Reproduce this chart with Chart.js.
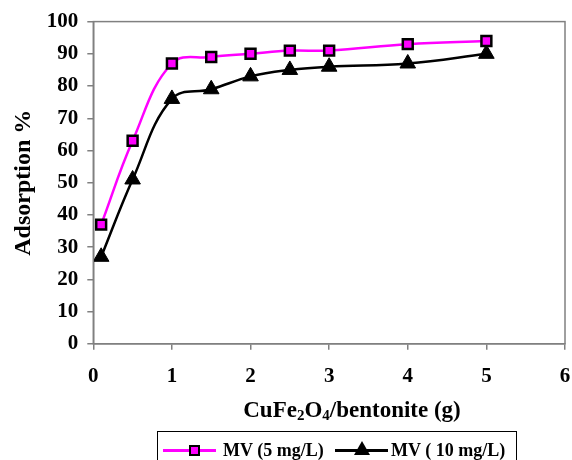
<!DOCTYPE html>
<html>
<head>
<meta charset="utf-8">
<script src="https://cdn.jsdelivr.net/npm/chart.js@4/dist/chart.umd.min.js"></script>
<style>
  html, body { margin: 0; padding: 0; background: #fff; }
  #wrap { position: relative; width: 572px; height: 460px; overflow: hidden; }
  #chart { position: absolute; left: 0; top: 0; }
  .serif { font-family: 'Liberation Serif', 'Times New Roman', serif; font-weight: bold; color: #000; }
  #x-title { position: absolute; left: 0; top: 397px; width: 572px; padding-left: 132px; box-sizing: border-box; text-align: center; font-size: 23px; }
  #x-title sub { font-size: 15px; vertical-align: -3px; }
  #legend { position: absolute; left: 157px; top: 431px; width: 360px; height: 40px; border: 1px solid #000; box-sizing: border-box; }
  .leg-item { position: absolute; top: 7px; height: 22px; font-size: 18px; white-space: nowrap; }
  .leg-line { position: absolute; top: 10px; width: 53px; height: 2.5px; }
  .leg-text { position: absolute; top: 0; line-height: 22px; }
</style>
</head>
<body>
<div id="wrap">
  <canvas id="chart" width="572" height="460"></canvas>
  <div id="x-title" class="serif">CuFe<sub>2</sub>O<sub>4</sub>/bentonite (g)</div>
  <div id="legend" class="serif">
    <div class="leg-item" style="left:5px;">
      <div class="leg-line" style="left:0;background:#FF00FF;"></div>
      <div style="position:absolute;left:26px;top:6px;width:7px;height:7px;background:#FF00FF;border:2.5px solid #000;"></div>
      <div class="leg-text" style="left:60px;">MV (5 mg/L)</div>
    </div>
    <div class="leg-item" style="left:177px;">
      <div class="leg-line" style="left:0;background:#000;"></div>
      <div style="position:absolute;left:19px;top:2px;width:0;height:0;border-left:8px solid transparent;border-right:8px solid transparent;border-bottom:14px solid #000;"></div>
      <div class="leg-text" style="left:56px;">MV ( 10 mg/L)</div>
    </div>
  </div>
</div>

<script>
/* ── Data ───────────────────────────────────────────────── */

const dose    = [0.1, 0.5, 1, 1.5, 2, 2.5, 3, 4, 5];
const mv5     = [37, 63, 87, 89, 90, 91, 91, 93, 94];
const mv10    = [27, 51, 76, 79, 83, 85, 86, 87, 90];
const labels  = ['MV (5 mg/L)', 'MV ( 10 mg/L)'];

const xTicks  = [0, 1, 2, 3, 4, 5, 6];
const yTicks  = [0, 10, 20, 30, 40, 50, 60, 70, 80, 90, 100];

const FONT = "'Liberation Serif', 'Times New Roman', serif";
const AXIS_GREY = '#808080';

function toPoints(ys) {
  return dose.map((x, i) => ({ x, y: ys[i] }));
}

/* ── Frame plugin (top/right border) ───────────────────── */

const frame = {
  id: 'frame',
  afterDraw(chart) {
    const { ctx, chartArea: a } = chart;
    ctx.save();
    ctx.strokeStyle = AXIS_GREY;
    ctx.lineWidth = 1.5;
    ctx.strokeRect(a.left, a.top, a.right - a.left, a.bottom - a.top);
    ctx.restore();
  }
};

/* ── Chart ─────────────────────────────────────────────── */

new Chart(document.getElementById('chart'), {
  type: 'line',
  data: {
    datasets: [
      {
        label: labels[0],
        data: toPoints(mv5),
        borderColor: '#FF00FF',
        borderWidth: 2.5,
        tension: 0.4,
        pointStyle: 'rect',
        pointRadius: 7,
        pointBackgroundColor: '#FF00FF',
        pointBorderColor: '#000',
        pointBorderWidth: 2.5
      },
      {
        label: labels[1],
        data: toPoints(mv10),
        borderColor: '#000',
        borderWidth: 2.5,
        tension: 0.4,
        pointStyle: 'triangle',
        pointRadius: 9,
        pointBackgroundColor: '#000',
        pointBorderColor: '#000',
        pointBorderWidth: 1
      }
    ]
  },
  options: {
    responsive: false,
    animation: false,
    layout: { autoPadding: false, padding: { top: 8, right: 0, bottom: 57, left: 6 } },
    plugins: { legend: { display: false }, tooltip: { enabled: false } },
    scales: {
      x: {
        type: 'linear',
        min: xTicks[0],
        max: xTicks[xTicks.length - 1],
        afterBuildTicks: s => { s.ticks = xTicks.map(v => ({ value: v })); },
        afterFit: s => { s.paddingRight = 7; },
        grid: { drawOnChartArea: false, drawTicks: true, tickLength: 6, color: AXIS_GREY, lineWidth: 1.5 },
        border: { color: AXIS_GREY, width: 1.5 },
        ticks: { color: '#000', padding: 14, font: { family: FONT, size: 21, weight: 'bold' } }
      },
      y: {
        min: yTicks[0],
        max: yTicks[yTicks.length - 1],
        afterBuildTicks: s => { s.ticks = yTicks.map(v => ({ value: v })); },
        grid: { drawOnChartArea: false, drawTicks: true, tickLength: 6, color: AXIS_GREY, lineWidth: 1.5 },
        border: { color: AXIS_GREY, width: 1.5 },
        ticks: { color: '#000', padding: 9, font: { family: FONT, size: 21, weight: 'bold' } },
        title: {
          display: true,
          text: 'Adsorption %',
          color: '#000',
          padding: { top: 3, bottom: 0 },
          font: { family: FONT, size: 24, weight: 'bold' }
        }
      }
    }
  },
  plugins: [frame]
});
</script>
</body>
</html>
